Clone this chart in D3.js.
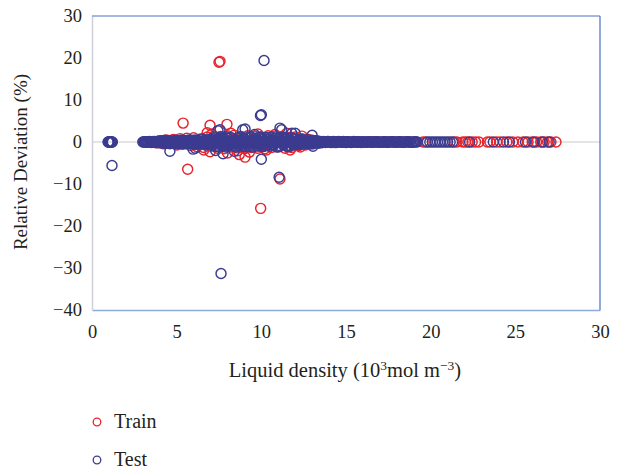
<!DOCTYPE html>
<html>
<head>
<meta charset="utf-8">
<script src="https://cdn.jsdelivr.net/npm/d3@7"></script>
<style>
  body { margin: 0; background: #fff; }
  text { font-family: "Liberation Serif", "DejaVu Serif", serif; fill: #231f20; }
</style>
</head>
<body>
<div id="chart"></div>
<script>
// [liquid density (10^3 mol/m3), relative deviation (%)]
const trainPoints = [
  [3.6,0.1],[3.8,-0.2],[4.0,0.3],[4.2,-0.4],[4.4,0.5],[4.6,-0.3],[4.8,0.6],[5.0,-0.7],[5.2,0.8],[5.4,-0.5],
  [5.6,0.9],[5.8,-0.8],[6.0,1.0],[6.2,-1.1],[6.4,0.7],[6.6,-1.3],[6.8,1.2],[7.0,-1.0],[7.2,1.4],[7.4,-1.5],
  [7.6,1.3],[7.8,-1.6],[8.0,1.5],[8.2,-1.2],[8.4,1.6],[8.6,-1.4],[8.8,1.3],[9.0,-1.6],[9.2,1.5],[9.4,-1.3],
  [9.6,1.4],[9.8,-1.5],[10.0,1.2],[10.2,-1.6],[10.4,1.5],[10.6,-1.3],[10.8,1.4],[11.0,-1.2],[11.2,1.3],[11.4,-1.5],
  [11.6,1.1],[11.8,-1.3],[12.0,1.2],[12.2,-0.9],[12.4,0.8],[12.6,-0.7],[12.8,0.6],[13.0,-0.5],
  [13.3,0.1],[13.6,-0.1],[13.9,0.1],[14.2,-0.1],[14.5,0.05],[14.8,-0.05],[15.1,0.05],[15.4,0],[15.7,0.05],[16.0,-0.05],
  [16.3,0],[16.6,0.05],[16.9,0],[17.2,-0.05],[17.5,0],[17.8,0.05],[18.1,0],[18.4,-0.05],[18.7,0],[19.0,0],
  // outliers
  [5.38,4.5],[5.65,-6.5],[6.97,4.0],[7.97,4.2],[7.08,1.9],[6.97,-2.3],[7.5,19.0],[7.56,19.2],[8.0,-2.6],
  [9.04,-3.6],[9.3,-2.4],[9.96,-15.8],[11.1,-8.8],[11.5,2.1],[11.7,-1.9],[12.3,-1.2],[12.4,1.4],[6.6,-1.9],
  [8.2,2.1],[8.6,-2.1],[10.3,-1.9],[10.8,1.8],[6.8,2.2],[9.8,1.9],[8.7,-3.0],
  // high density clusters
  [19.55,0],[19.7,0],[21.4,0],[21.55,0],[21.9,0],[22.05,0],[22.2,0],[22.45,0],[22.65,0],[22.85,0],
  [23.35,0],[23.5,0],[23.9,0],[24.1,0],[24.5,0],[24.85,0],[25.15,0],[25.45,0],[25.75,0],[26.0,0],
  [26.25,0],[26.5,0],[26.7,0],[26.9,0],[27.1,0],[27.4,0]
];

const testPoints = [
  [0.95,0],[0.975,0],[1.0,0],[1.025,0],[1.05,0],[1.075,0],[1.1,0],[1.125,0],[1.15,0],[1.175,0],[1.2,0],
  [3.0,0],[3.1,0.05],[3.2,-0.05],[3.3,0],[3.4,0.1],[3.5,-0.1],[3.6,0],[3.7,0.1],[3.8,-0.1],[3.9,0.2],[4.0,-0.2],
  [4.1,0.3],[4.2,-0.3],[4.3,0.4],[4.4,-0.2],[4.5,0.1],[4.6,-0.4],[4.7,0.2],[4.8,0.3],[4.9,-0.3],[5.0,0.1],
  [5.1,-0.2],[5.2,0.4],[5.3,-0.5],[5.4,0.2],[5.5,-0.1],[5.6,0.3],[5.7,-0.4],[5.8,0.5],[5.9,-0.3],[6.0,0.2],
  [6.1,-0.6],[6.2,0.4],[6.3,-0.2],[6.4,0.6],[6.5,-0.5],[6.6,0.3],[6.7,-0.7],[6.8,0.5],[6.9,-0.4],[7.0,0.7],
  [7.1,-0.8],[7.2,1.0],[7.3,-1.1],[7.4,0.6],[7.5,-0.5],[7.6,1.2],[7.7,-1.0],[7.8,0.8],[7.9,-1.2],[8.0,0.9],
  [8.1,-0.7],[8.2,1.1],[8.3,-0.9],[8.4,0.4],[8.5,-1.2],[8.6,1.0],[8.7,-0.6],[8.8,1.2],[8.9,-1.0],[9.0,0.7],
  [9.1,-1.1],[9.2,0.9],[9.3,-0.8],[9.4,1.2],[9.5,-1.2],[9.6,0.5],[9.7,-0.9],[9.8,1.1],[9.9,-0.6],[10.0,0.8],
  [10.1,-1.1],[10.2,1.0],[10.3,-0.7],[10.4,0.6],[10.5,-1.0],[10.6,1.2],[10.7,-0.8],[10.8,0.9],[10.9,-1.2],[11.0,0.7],
  [11.1,-0.9],[11.2,1.1],[11.3,-0.6],[11.4,0.8],[11.5,-1.0],[11.6,0.5],[11.7,-0.8],[11.8,1.0],[11.9,-0.7],[12.0,0.6],
  [12.1,-0.6],[12.2,0.5],[12.3,-0.4],[12.4,0.6],[12.5,-0.5],[12.6,0.3],[12.7,-0.4],[12.8,0.5],[12.9,-0.3],[13.0,0.4],
  [13.1,-0.3],[13.2,0.3],[13.3,-0.2],[13.4,0.2],[13.5,-0.2],
  [3.05,0],[3.15,0],[3.25,0.05],[3.35,-0.05],[3.45,0],[3.55,0.05],[3.65,-0.05],[3.75,0],[3.85,0.1],[3.95,-0.1],
  [4.05,0.1],[4.15,-0.1],[4.25,0.2],[4.35,0],[4.45,-0.3],[4.55,0.3],[4.65,0],[4.75,-0.2],[4.85,0.1],[4.95,0.4],
  [5.05,-0.4],[5.15,0.2],[5.25,-0.1],[5.35,0.5],[5.45,-0.3],[5.55,0],[5.65,0.4],[5.75,-0.2],[5.85,0.1],[5.95,-0.5],
  [6.05,0.5],[6.15,0],[6.25,-0.4],[6.35,0.2],[6.45,-0.1],[6.55,0.7],[6.65,-0.3],[6.75,0.1],[6.85,-0.6],[6.95,0.3],
  [7.05,-0.2],[7.15,0.4],[7.25,-0.5],[7.35,0.2],[7.45,-1.0],[7.55,0.9],[7.65,-0.2],[7.75,0.3],[7.85,-0.6],[7.95,1.2],
  [8.05,-1.0],[8.15,0.2],[8.25,-0.4],[8.35,0.8],[8.45,-0.2],[8.55,0.5],[8.65,-0.9],[8.75,0.3],[8.85,-0.4],[8.95,1.0],
  [9.05,-0.5],[9.15,0.3],[9.25,-1.1],[9.35,0.2],[9.45,-0.3],[9.55,0.8],[9.65,-0.1],[9.75,0.4],[9.85,-1.0],[9.95,1.2],
  [10.05,-0.4],[10.15,0.3],[10.25,-0.9],[10.35,1.1],[10.45,-0.2],[10.55,0.4],[10.65,-0.5],[10.75,0.2],[10.85,-0.3],[10.95,1.0],
  [11.05,-1.1],[11.15,0.3],[11.25,-0.3],[11.35,1.0],[11.45,-0.2],[11.55,0.9],[11.65,-1.1],[11.75,0.2],[11.85,-0.4],[11.95,0.8],
  [12.05,-0.2],[12.15,0.1],[12.25,-0.6],[12.35,0.2],[12.45,-0.1],[12.55,0.5],[12.65,-0.2],[12.75,0.1],[12.85,-0.4],[12.95,0.2],
  [13.05,-0.1],[13.15,0.1],[13.25,0.3],[13.35,-0.3],[13.45,0.1],
  [4.025,0],[4.125,0.1],[4.225,-0.1],[4.325,0],[4.425,0.2],[4.525,-0.2],[4.625,0.1],[4.725,0],[4.825,-0.1],[4.925,0.2],
  [5.025,0],[5.125,-0.2],[5.225,0.1],[5.325,0],[5.425,-0.1],[5.525,0.2],[5.625,-0.2],[5.725,0],[5.825,0.1],[5.925,-0.1],
  [6.025,0],[6.125,0.2],[6.225,-0.1],[6.325,0],[6.425,-0.2],[6.525,0.1],[6.625,0],[6.725,0.2],[6.825,-0.1],[6.925,0],
  [7.025,0.1],[7.125,-0.2],[7.225,0],[7.325,0.3],[7.425,-0.1],[7.525,0],[7.625,-0.3],[7.725,0.1],[7.825,0],[7.925,-0.2],
  [8.025,0.2],[8.125,0],[8.225,-0.1],[8.325,0.1],[8.425,-0.3],[8.525,0],[8.625,0.2],[8.725,-0.1],[8.825,0],[8.925,0.3],
  [9.025,-0.2],[9.125,0],[9.225,0.1],[9.325,-0.1],[9.425,0],[9.525,0.2],[9.625,-0.3],[9.725,0],[9.825,0.1],[9.925,-0.1],
  [10.025,0],[10.125,0.2],[10.225,-0.2],[10.325,0],[10.425,0.1],[10.525,-0.1],[10.625,0],[10.725,0.3],[10.825,-0.1],[10.925,0],
  [11.025,0.1],[11.125,-0.2],[11.225,0],[11.325,0.2],[11.425,-0.1],[11.525,0],[11.625,0.1],[11.725,-0.2],[11.825,0],[11.925,0.1],
  [12.025,-0.1],[12.125,0],[12.225,0.1],[12.325,-0.1],[12.425,0],[12.525,0.1],[12.625,-0.1],[12.725,0],[12.825,0.1],[12.925,0],
  [13.65,0.1],[13.8,-0.1],[13.95,0.15],[14.1,-0.1],[14.25,0.1],[14.4,-0.15],[14.55,0.1],[14.7,-0.05],[14.85,0.1],[15.0,-0.1],
  [15.15,0.05],[15.3,-0.1],[15.45,0.1],[15.6,-0.05],[15.75,0.05],[15.9,-0.1],[16.05,0.05],[16.2,0],[16.35,0.05],[16.5,-0.05],
  [16.65,0],[16.8,0.05],[16.95,-0.05],[17.1,0],[17.25,0.05],[17.4,-0.05],[17.55,0],[17.7,0.05],[17.85,-0.05],[18.0,0],
  [18.15,0.05],[18.3,-0.05],[18.45,0],[18.6,0.05],[18.75,0],[18.9,-0.05],[19.05,0],[19.2,0],
  [13.575,0],[13.725,0.05],[13.875,-0.05],[14.025,0],[14.175,0.05],[14.325,-0.05],[14.475,0],[14.625,0.05],[14.775,-0.05],[14.925,0],
  [15.075,0.05],[15.225,-0.05],[15.375,0],[15.525,0.05],[15.675,-0.05],[15.825,0],[15.975,0.05],[16.125,-0.05],[16.275,0],[16.425,0.05],
  [16.575,-0.05],[16.725,0],[16.875,0.05],[17.025,-0.05],[17.175,0],[17.325,0.05],[17.475,-0.05],[17.625,0],[17.775,0.05],[17.925,-0.05],
  [18.075,0],[18.225,0.05],[18.375,-0.05],[18.525,0],[18.675,0.05],[18.825,-0.05],[18.975,0],[19.125,0.05],
  // outliers
  [1.18,-5.6],[4.6,-2.2],[5.97,-1.7],[6.1,-1.5],[7.3,-2.0],[7.44,2.7],[7.56,2.9],[7.74,-2.8],[7.62,-31.3],
  [8.4,-2.2],[8.9,2.9],[9.04,3.1],[9.6,1.8],[9.95,6.3],[10.0,6.5],[10.0,-4.1],[10.16,19.4],[11.05,-8.4],
  [11.1,3.3],[11.2,2.9],[11.8,2.1],[12.0,2.1],[13.0,1.6],[13.05,-1.0],
  // high density clusters
  [19.8,0],[19.95,0],[20.1,0],[20.25,0],[20.4,0],[20.55,0],[20.7,0],[20.85,0],[21.0,0],[21.15,0],[21.3,0],
  [22.3,0],[23.7,0],[24.3,0],[24.65,0],[25.6,0],[26.1,0],[26.6,0],[27.0,0]
];

const xTicks = [0, 5, 10, 15, 20, 25, 30];
const yTicks = [-40, -30, -20, -10, 0, 10, 20, 30];
const seriesNames = ["Train", "Test"];
const seriesColors = ["#e8232b", "#3b3b90"];

const margin = { top: 16, right: 19, bottom: 162, left: 92 },
      width = 619 - margin.left - margin.right,
      height = 472 - margin.top - margin.bottom;

const svg = d3.select("#chart")
  .append("svg")
  .attr("width", 619)
  .attr("height", 472);

const g = svg.append("g")
  .attr("transform", `translate(${margin.left},${margin.top})`);

const x = d3.scaleLinear().domain([0, 30]).range([0, width]);
const y = d3.scaleLinear().domain([-40, 30]).range([height, 0]);

// zero line
g.append("line")
  .attr("x1", 0).attr("x2", width)
  .attr("y1", y(0)).attr("y2", y(0))
  .attr("stroke", "#c9c9c9")
  .attr("stroke-width", 1.2);

// Axes
const xAxis = g.append("g")
  .attr("transform", `translate(0,${height})`)
  .call(d3.axisBottom(x).tickValues(xTicks).tickSize(0).tickPadding(15));

const yAxis = g.append("g")
  .call(d3.axisLeft(y).tickValues(yTicks).tickSize(0).tickPadding(10));

g.selectAll(".tick text")
  .style("font-family", "Liberation Serif, serif")
  .style("font-size", "18.5px")
  .attr("fill", "#231f20");

xAxis.select("path.domain").attr("stroke", "#8eaadc").attr("stroke-width", 1.5);
yAxis.select("path.domain").attr("stroke", "#cfd0d8").attr("stroke-width", 1.5);

// top and right frame
g.append("line").attr("x1", 0).attr("x2", width).attr("y1", 0).attr("y2", 0)
  .attr("stroke", "#4a6fc4").attr("stroke-width", 1.2);
g.append("line").attr("x1", width).attr("x2", width).attr("y1", 0).attr("y2", height)
  .attr("stroke", "#4a6fc4").attr("stroke-width", 1.2);

// Points
[trainPoints, testPoints].forEach((pts, i) => {
  g.append("g")
    .selectAll("circle")
    .data(pts)
    .enter().append("circle")
    .attr("cx", d => x(d[0]))
    .attr("cy", d => y(d[1]))
    .attr("r", 5)
    .attr("fill", "none")
    .attr("stroke", seriesColors[i])
    .attr("stroke-width", 1.45);
});

// Axis titles
svg.append("text")
  .attr("transform", `translate(27,162) rotate(-90)`)
  .attr("text-anchor", "middle")
  .style("font-size", "19px")
  .text("Relative Deviation (%)");

const xTitle = svg.append("text")
  .attr("x", 345)
  .attr("y", 377)
  .attr("text-anchor", "middle")
  .style("font-size", "20.5px");
xTitle.append("tspan").text("Liquid density (10");
xTitle.append("tspan").attr("dy", -7).style("font-size", "13.5px").text("3");
xTitle.append("tspan").attr("dy", 7).text("mol m");
xTitle.append("tspan").attr("dy", -7).style("font-size", "13.5px").text("\u22123");
xTitle.append("tspan").attr("dy", 7).text(")");

// Legend
const legend = svg.append("g");
seriesNames.forEach((name, i) => {
  const ly = 422 + i * 38;
  legend.append("circle")
    .attr("cx", 97).attr("cy", ly).attr("r", 3.8)
    .attr("fill", "none")
    .attr("stroke", seriesColors[i])
    .attr("stroke-width", 1.3);
  legend.append("text")
    .attr("x", 114).attr("y", ly + 6)
    .style("font-size", "20px")
    .text(name);
});
</script>
</body>
</html>
